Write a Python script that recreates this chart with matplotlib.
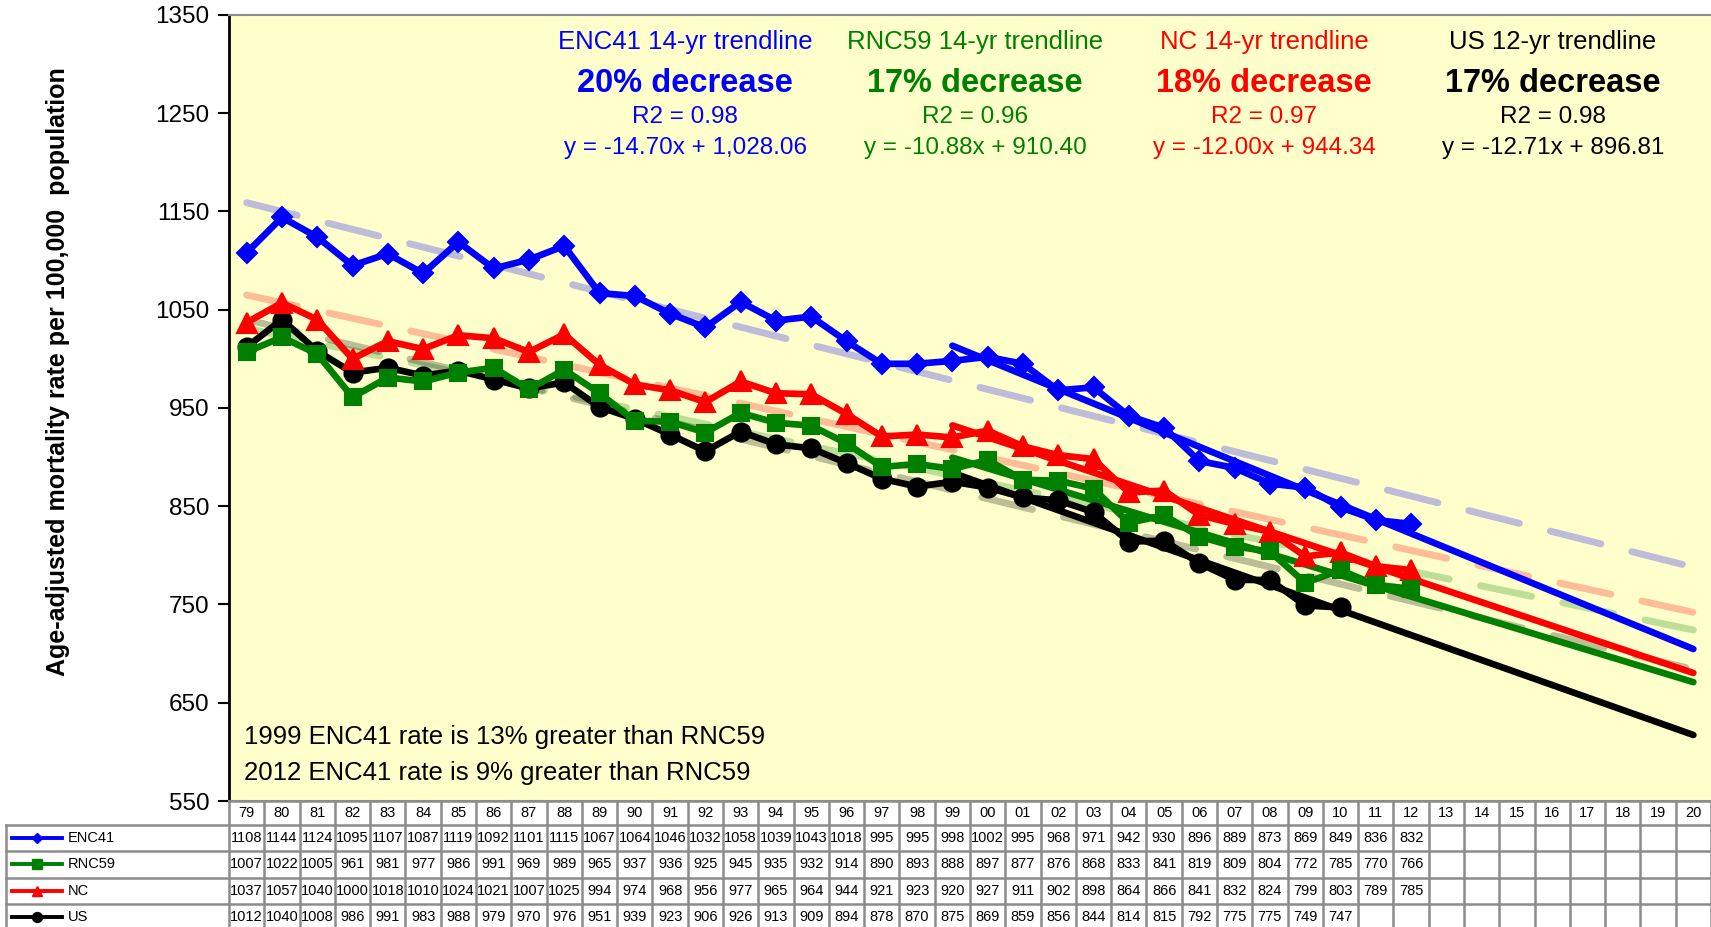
import numpy as np
import matplotlib.pyplot as plt

# === Data ===
YEARS = ['79', '80', '81', '82', '83', '84', '85', '86', '87', '88', '89', '90', '91', '92',
         '93', '94', '95', '96', '97', '98', '99', '00', '01', '02', '03', '04', '05', '06',
         '07', '08', '09', '10', '11', '12', '13', '14', '15', '16', '17', '18', '19', '20']

enc41 = [1108, 1144, 1124, 1095, 1107, 1087, 1119, 1092, 1101, 1115, 1067, 1064, 1046, 1032,
         1058, 1039, 1043, 1018, 995, 995, 998, 1002, 995, 968, 971, 942, 930, 896, 889, 873,
         869, 849, 836, 832]
rnc59 = [1007, 1022, 1005, 961, 981, 977, 986, 991, 969, 989, 965, 937, 936, 925, 945, 935,
         932, 914, 890, 893, 888, 897, 877, 876, 868, 833, 841, 819, 809, 804, 772, 785, 770, 766]
nc = [1037, 1057, 1040, 1000, 1018, 1010, 1024, 1021, 1007, 1025, 994, 974, 968, 956, 977, 965,
      964, 944, 921, 923, 920, 927, 911, 902, 898, 864, 866, 841, 832, 824, 799, 803, 789, 785]
us = [1012, 1040, 1008, 986, 991, 983, 988, 979, 970, 976, 951, 939, 923, 906, 926, 913, 909,
      894, 878, 870, 875, 869, 859, 856, 844, 814, 815, 792, 775, 775, 749, 747]

NAMES = ['ENC41', 'RNC59', 'NC', 'US']
SERIES = [enc41, rnc59, nc, us]
COLORS = ['#0000FF', '#008000', '#FF0000', '#000000']
MARKERS = ['D', 's', '^', 'o']
MSIZES = [10, 12, 14, 13]

# long-period trendlines (79 -> 20)
long_trend_start = [1159, 1031, 1065, 1040]
long_trend_end = [788, 724, 742, 684]
# short trendlines (99 -> 20), from the equations shown
short_trend_start = [1013.4, 899.5, 932.3, 884.1]
short_trend_end = [704.7, 671.0, 680.3, 617.2]

HEAD_TITLES = ['ENC41 14-yr trendline', 'RNC59 14-yr trendline', 'NC 14-yr trendline', 'US 12-yr trendline']
HEAD_PCT = ['20% decrease', '17% decrease', '18% decrease', '17% decrease']
HEAD_R2 = ['R2 = 0.98', 'R2 = 0.96', 'R2 = 0.97', 'R2 = 0.98']
HEAD_EQ = ['y = -14.70x + 1,028.06', 'y = -10.88x + 910.40', 'y = -12.00x + 944.34', 'y = -12.71x + 896.81']
HEAD_X = [685, 975, 1264, 1553]

NOTES = ['1999 ENC41 rate is 13% greater than RNC59', '2012 ENC41 rate is 9% greater than RNC59']

# === Figure ===
W, H = 1711, 927
plt.rcParams['font.family'] = ['Liberation Sans', 'DejaVu Sans']
fig = plt.figure(figsize=(W / 100, H / 100), dpi=100)

PL, PT, PB = 229, 15, 801
ax = fig.add_axes([PL / W, 1 - PB / H, (W - PL) / W, (PB - PT) / H])
ax.set_facecolor('#FFFFCC')
x = np.arange(len(YEARS))
ax.set_xlim(-0.5, len(YEARS) - 0.5)
ax.set_ylim(550, 1350)
ax.set_yticks(np.arange(550, 1351, 100))
ax.tick_params(axis='y', labelsize=17.5, length=8, width=1.5, direction='out', pad=6)
ax.set_xticks([])
for s in ['top', 'bottom']:
    ax.spines[s].set_color('#8c8c8c')
    ax.spines[s].set_linewidth(1.5)
ax.spines['right'].set_visible(False)
ax.spines['left'].set_linewidth(2)

ax.set_ylabel('Age-adjusted mortality rate per 100,000  population', fontsize=18,
              fontweight='bold')
ax.yaxis.set_label_coords(-(PL - 70) / (W - PL), (PB - 372) / (PB - PT))

xe = [x[0], x[-1]]
xs = [x[20], x[-1]]
for i in range(4):
    ax.plot(xe, [long_trend_start[i], long_trend_end[i]], color=COLORS[i], alpha=0.26,
            lw=5, dashes=(7.5, 4.6), dash_capstyle='round', zorder=2)
for i in range(4):
    ax.plot(xs, [short_trend_start[i], short_trend_end[i]], color=COLORS[i], lw=4.8,
            solid_capstyle='round', zorder=3)
for i in range(3, -1, -1):
    vals = SERIES[i]
    ax.plot(x[:len(vals)], vals, color=COLORS[i], lw=4.8, marker=MARKERS[i],
            markersize=MSIZES[i], markeredgewidth=1.5, zorder=4 + (3 - i))

# header texts
for i in range(4):
    cx = HEAD_X[i] / W
    fig.text(cx, 1 - 42 / H, HEAD_TITLES[i], color=COLORS[i], fontsize=18.5, ha='center', va='center')
    fig.text(cx, 1 - 83 / H, HEAD_PCT[i], color=COLORS[i], fontsize=23.5, fontweight='bold',
             ha='center', va='center')
    fig.text(cx, 1 - 117 / H, HEAD_R2[i], color=COLORS[i], fontsize=17.5, ha='center', va='center')
    fig.text(cx, 1 - 148 / H, HEAD_EQ[i], color=COLORS[i], fontsize=17.5, ha='center', va='center')

for k, note in enumerate(NOTES):
    fig.text(244 / W, 1 - (737 + 36 * k) / H, note, fontsize=18.5, ha='left', va='center')

# === Data table under the plot ===
HDR, ROWH = 24, 26.3
TB = HDR + 4 * ROWH
LX0 = 6
colw = (W - PL) / len(YEARS)
tab = fig.add_axes([LX0 / W, 1 - (PB + TB) / H, (W - LX0) / W, TB / H])
tab.set_xlim(-0.5 - (PL - LX0) / colw, len(YEARS) - 0.5)
tab.set_ylim(TB, 0)
tab.axis('off')
left = -0.5 - (PL - LX0) / colw
gc, glw = '#8c8c8c', 1.8


def px2x(px):
    return left + (px - LX0) / colw


for j in range(len(YEARS) + 1):
    tab.plot([j - 0.5, j - 0.5], [0, TB], color=gc, lw=glw, clip_on=False)
tab.plot([left, left], [HDR, TB], color=gc, lw=glw, clip_on=False)
tab.plot([-0.5, len(YEARS) - 0.5], [0, 0], color=gc, lw=glw, clip_on=False)
for r in range(5):
    yy = HDR + r * ROWH
    tab.plot([left, len(YEARS) - 0.5], [yy, yy], color=gc, lw=glw, clip_on=False)

for j, yr in enumerate(YEARS):
    tab.text(j, HDR / 2, yr, fontsize=10.5, ha='center', va='center')
for i in range(4):
    yc = HDR + (i + 0.5) * ROWH
    for j, v in enumerate(SERIES[i]):
        tab.text(j, yc, str(v), fontsize=10.5, ha='center', va='center')
    tab.plot([px2x(12), px2x(62)], [yc, yc], color=COLORS[i], lw=2.8)
    tab.plot([px2x(37)], [yc], marker=MARKERS[i], color=COLORS[i], markersize=MSIZES[i] * 0.55)
    tab.text(px2x(68), yc, NAMES[i], fontsize=10.5, ha='left', va='center')

fig.savefig('out.png', dpi=100)
